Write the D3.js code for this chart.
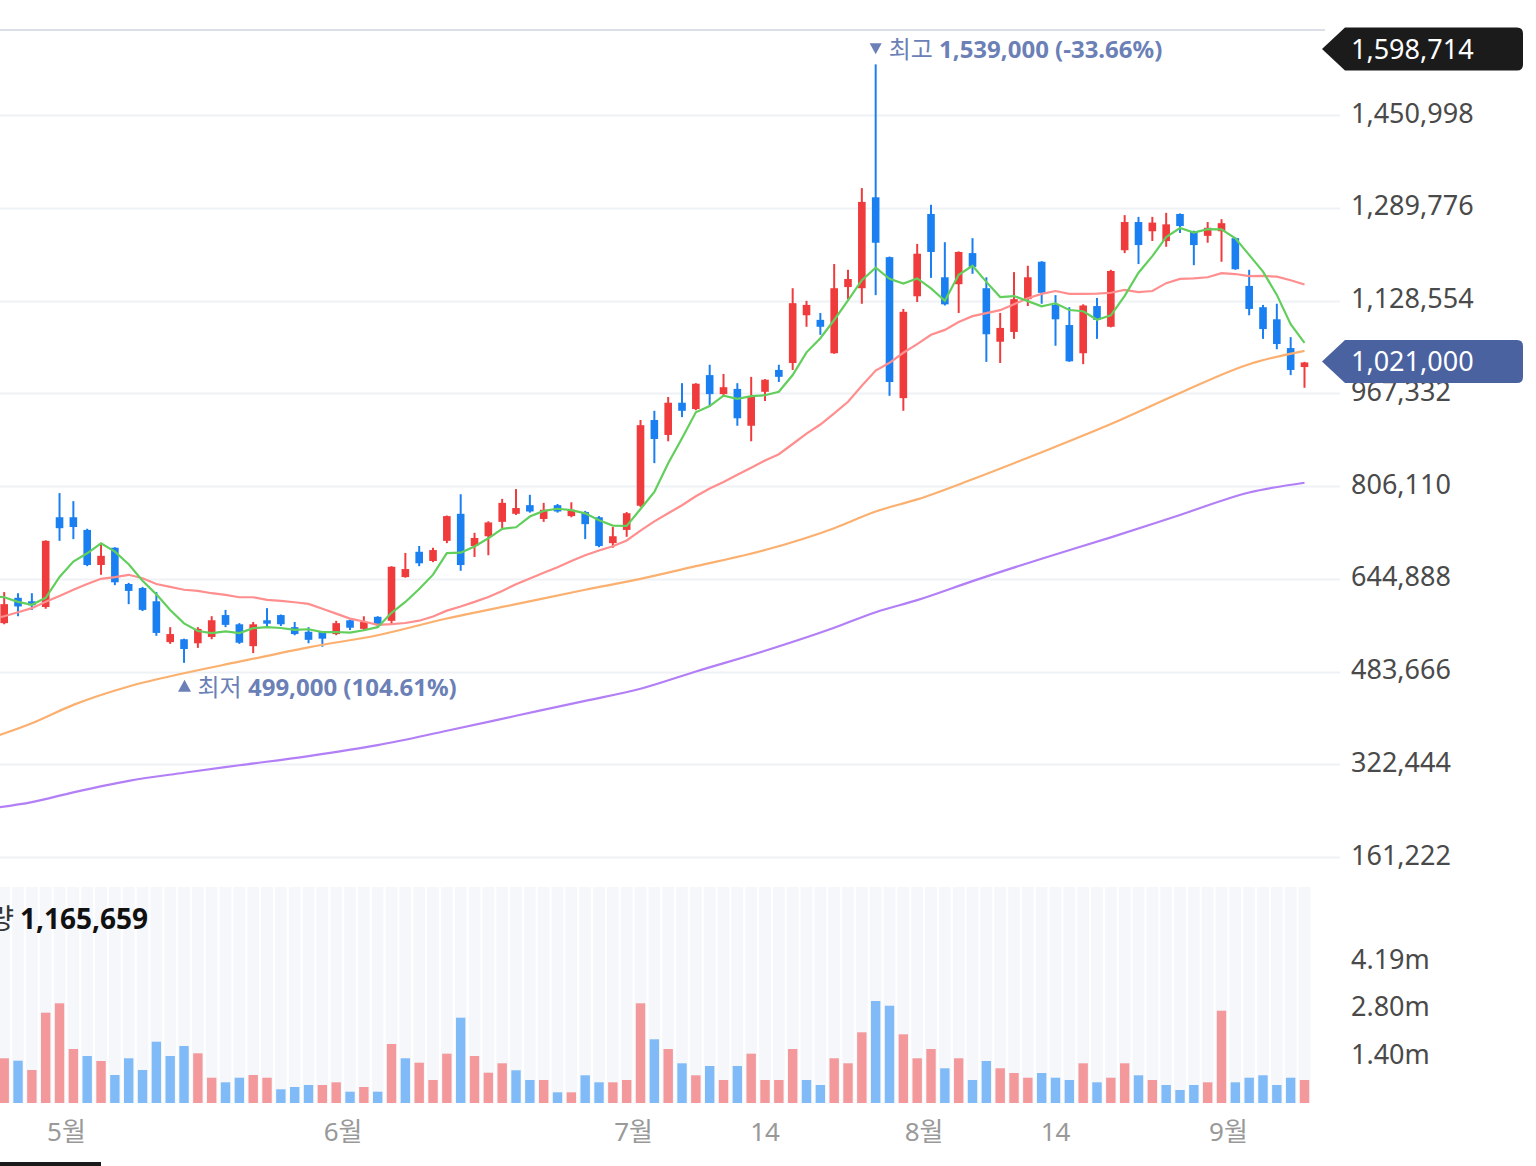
<!DOCTYPE html>
<html>
<head>
<meta charset="utf-8">
<script src="https://cdn.jsdelivr.net/npm/d3@7"></script>
<style>
    body { margin: 0; background: #fff; }
    svg text { font-family: "Noto Sans", "Noto Sans CJK KR", sans-serif; }
</style>
</head>
<body>
<div id="chart"></div>
<script>
    // prices in thousand won, one entry per trading day
    var opens = [568,612,606,596,752,752,730,669,699,636, 629,606,535,540,533,544,582,566,528,573,
                 582,561,553,553,549,573,558,579,572,648, 692,676,711,758,702,719,744,758,773,749,
                 773,754,761,752,707,730,772,921,895,951, 940,999,966,975,911,970,1008,1020,1103,1095,
                 1037,1152,1150,1308,1204,959,1136,1279,1169,1157, 1211,1150,1057,1074,1131,1196,1121,1086,1037,1119,
                 1083,1216,1265,1249,1232,1279,1249,1241,1249,1237, 1154,1117,1096,1046,1013];
    var highs = [622,620,620,712,794,780,732,706,700,638, 631,622,561,541,561,580,591,568,570,594,
                 583,570,561,554,572,574,580,580,667,690, 702,699,755,792,725,745,784,801,791,777,
                 775,778,763,754,735,761,921,937,961,985, 985,1017,1001,985,996,992,1017,1150,1128,1107,
                 1192,1182,1324,1539,1205,1114,1227,1295,1230,1214, 1237,1169,1107,1178,1189,1197,1138,1117,1122,1133,
                 1182,1277,1274,1274,1281,1280,1250,1265,1270,1238, 1182,1121,1123,1065,1022];
    var lows = [566,580,591,593,711,714,667,652,634,601, 589,546,532,499,525,540,561,532,516,561,
                563,547,533,527,547,556,556,561,565,647, 667,674,707,659,683,686,733,756,760,744,
                760,752,714,700,699,718,770,846,884,926, 938,944,961,911,884,954,987,1008,1083,1069,
                1036,1131,1123,1138,963,937,1126,1168,1120,1107, 1175,1022,1020,1062,1119,1123,1050,1022,1018,1062,
                1082,1211,1192,1232,1222,1246,1190,1229,1196,1182, 1103,1062,1044,999,977];
    var closes = [601,597,599,711,733,735,669,685,639,624, 591,551,549,523,558,573,565,534,566,567,
                  566,549,539,541,568,560,570,566,666,662, 672,695,754,669,716,743,777,768,762,765,
                  762,765,740,702,719,759,912,888,951,937, 984,966,978,924,961,991,996,1124,1121,1083,
                  1150,1166,1300,1229,987,1109,1210,1213,1122,1213, 1187,1070,1081,1131,1169,1142,1096,1023,1120,1095,
                  1180,1265,1225,1264,1261,1258,1225,1255,1263,1183, 1114,1079,1053,1008,1021];
    // volume in thousand shares
    var volumes = [1301,1231,960,2628,2901,1571,1368,1222,815,1301, 960,1784,1368,1659,1446,736,602,736,815,736,
                   399,466,524,524,602,329,466,329,1717,1301, 1173,669,1435,2482,1368,882,1155,952,669,669,
                   311,311,806,602,602,669,2901,1854,1571,1155, 806,1077,669,1077,1435,669,669,1571,669,524,
                   1301,1155,2057,2968,2831,1999,1301,1571,1010,1301, 669,1222,1010,873,736,873,736,669,1155,602,
                   736,1155,806,669,524,378,524,602,2686,602, 736,806,524,736,669];

    // moving averages before enough visible history (day -1 onward)
    var ma5Head = [615,613,605,600,612];
    var ma20Head = [575,580,587,594,605,615,626,636,645,648,652,646,636,631,626,624,620,617,613,613];
    // long averages read at these day indexes
    var longIdx = [-1,2,5,9,13,17,22,27,32,37,42,46,50,55,60,63,66,70,75,80,85,90,94];
    var ma60 = [368,394,426,458,481,501,526,547,576,601,626,645,667,695,733,762,783,818,865,914,968,1018,1041];
    var ma120 = [246,257,274,294,308,321,337,356,381,407,433,454,484,520,560,587,608,641,680,717,756,795,812];

    var priceTicks = [161222,322444,483666,644888,806110,967332,1128554,1289776,1450998];
    var priceTop = 1598714;
    var volTicks = [1400000,2800000,4190000];
    var volTickLabels = ["1.40m","2.80m","4.19m"];
    var dateLabels = ["5월","6월","7월","14","8월","14","9월"];
    var dateIdx = [4.5,24.5,45.5,55,66.5,76,88.5];
    var volumeTitle = "거래량";
    var volumeValue = "1,165,659";

    var width = 1536, height = 1166;
    var K = 1000;
    var upColor = "#f03b3d", downColor = "#1a7ff0";
    var upVol = "#f3999c", downVol = "#80bbf7";
    var fmt = d3.format(",");

    var n = closes.length;
    var x = d3.scaleLinear().domain([0, n - 1]).range([4.2, 1304.5]);
    var y = d3.scaleLinear().domain([0, priceTop]).range([950, 30]);
    var yv = d3.scaleLinear().domain([0, 4190000]).range([1103, 959]);

    var svg = d3.select("#chart").append("svg")
        .attr("width", width).attr("height", height);

    svg.append("clipPath").attr("id", "pclip")
        .append("rect").attr("x", 0).attr("y", 30).attr("width", 1340).attr("height", 850);

    // grid
    svg.append("g").selectAll("line").data(priceTicks).enter().append("line")
        .attr("x1", 0).attr("x2", 1340)
        .attr("y1", function(d) { return Math.round(y(d)) + 0.5; })
        .attr("y2", function(d) { return Math.round(y(d)) + 0.5; })
        .attr("stroke", "#eef1f6").attr("stroke-width", 2);

    svg.append("line").attr("x1", 0).attr("x2", 1325).attr("y1", 30).attr("y2", 30)
        .attr("stroke", "#cfd5e2").attr("stroke-width", 1.5);

    var plot = svg.append("g").attr("clip-path", "url(#pclip)");

    // candles
    var days = d3.range(n);
    var candle = plot.append("g").selectAll("g").data(days).enter().append("g");
    candle.append("line")
        .attr("x1", function(i) { return x(i); }).attr("x2", function(i) { return x(i); })
        .attr("y1", function(i) { return y(highs[i] * K); })
        .attr("y2", function(i) { return y(lows[i] * K); })
        .attr("stroke", function(i) { return closes[i] >= opens[i] ? upColor : downColor; })
        .attr("stroke-width", 2);
    candle.append("rect")
        .attr("x", function(i) { return x(i) - 3.8; })
        .attr("width", 7.6)
        .attr("y", function(i) { return y(Math.max(opens[i], closes[i]) * K); })
        .attr("height", function(i) { return Math.max(1.5, Math.abs(y(opens[i] * K) - y(closes[i] * K))); })
        .attr("fill", function(i) { return closes[i] >= opens[i] ? upColor : downColor; });

    // moving averages
    function avg(i, len) {
        return d3.mean(closes.slice(i - len + 1, i + 1));
    }
    var ma5 = ma5Head.map(function(v, j) { return [j - 1, v]; });
    for (var i = 4; i < n; i++) ma5.push([i, avg(i, 5)]);
    var ma20 = ma20Head.map(function(v, j) { return [j - 1, v]; });
    for (var i = 19; i < n; i++) ma20.push([i, avg(i, 20)]);

    var line = d3.line().x(function(d) { return x(d[0]); }).y(function(d) { return y(d[1] * K); });
    var smooth = d3.line().curve(d3.curveMonotoneX)
        .x(function(d) { return x(d[0]); }).y(function(d) { return y(d[1] * K); });

    plot.append("path").attr("d", smooth(longIdx.map(function(d, j) { return [d, ma120[j]]; })))
        .attr("fill", "none").attr("stroke", "#b27ff6").attr("stroke-width", 2.2);
    plot.append("path").attr("d", smooth(longIdx.map(function(d, j) { return [d, ma60[j]]; })))
        .attr("fill", "none").attr("stroke", "#fbb070").attr("stroke-width", 2.2);
    plot.append("path").attr("d", line(ma20))
        .attr("fill", "none").attr("stroke", "#ff8e8e").attr("stroke-width", 2.2);
    plot.append("path").attr("d", line(ma5))
        .attr("fill", "none").attr("stroke", "#62cf5c").attr("stroke-width", 2.2);

    // high / low markers
    var hiIdx = d3.maxIndex(highs), loIdx = d3.minIndex(lows);
    var last = closes[n - 1];
    var annColor = "#6b80b6";
    var pct = function(v) { return d3.format(".2f")(v).replace("\u2212", "-"); };
    var hy = y(highs[hiIdx] * K) - 16;
    svg.append("path")
        .attr("d", "M" + (x(hiIdx) - 6) + "," + (hy - 5) + "L" + (x(hiIdx) + 6) + "," + (hy - 5) + "L" + x(hiIdx) + "," + (hy + 6) + "Z")
        .attr("fill", annColor);
    var ht = svg.append("text").attr("x", x(hiIdx) + 13).attr("y", hy)
        .attr("dominant-baseline", "central").attr("font-size", 24).attr("fill", annColor);
    ht.append("tspan").text("최고 ");
    ht.append("tspan").attr("font-weight", 700)
        .text(fmt(highs[hiIdx] * K) + " (" + pct((last / highs[hiIdx] - 1) * 100) + "%)");

    var ly = y(lows[loIdx] * K) + 23;
    svg.append("path")
        .attr("d", "M" + (x(loIdx) - 6) + "," + (ly + 6) + "L" + (x(loIdx) + 7) + "," + (ly + 6) + "L" + (x(loIdx) + 0.5) + "," + (ly - 6) + "Z")
        .attr("fill", annColor);
    var lt = svg.append("text").attr("x", x(loIdx) + 13.5).attr("y", ly)
        .attr("dominant-baseline", "central").attr("font-size", 24).attr("fill", annColor);
    lt.append("tspan").text("최저 ");
    lt.append("tspan").attr("font-weight", 700)
        .text(fmt(lows[loIdx] * K) + " (" + pct((last / lows[loIdx] - 1) * 100) + "%)");

    // right price axis
    svg.append("g").selectAll("text").data(priceTicks).enter().append("text")
        .attr("x", 1351).attr("y", function(d) { return y(d) - 3; })
        .attr("dominant-baseline", "central").attr("font-size", 27).attr("fill", "#4a4a4a")
        .text(function(d) { return fmt(d); });

    function badge(cy, label, color) {
        var g = svg.append("g");
        g.append("path")
            .attr("d", "M1322," + cy + "L1345," + (cy - 21.5) + "H1517Q1523," + (cy - 21.5) + " 1523," + (cy - 15.5) +
                "V" + (cy + 15.5) + "Q1523," + (cy + 21.5) + " 1517," + (cy + 21.5) + "H1345Z")
            .attr("fill", color);
        g.append("text").attr("x", 1351).attr("y", cy - 1).attr("dominant-baseline", "central")
            .attr("font-size", 27).attr("fill", "#fff").text(label);
    }
    badge(49, fmt(priceTop), "#1b1b1b");
    badge(y(last * K) - 1, fmt(last * K), "#4a62a0");

    // volume panel
    svg.append("g").selectAll("rect").data(days).enter().append("rect")
        .attr("x", function(i) { return x(i) - 5.85; }).attr("width", 11.7)
        .attr("y", 887).attr("height", 1103 - 887)
        .attr("fill", "#f5f7fb");
    svg.append("g").selectAll("rect").data(days).enter().append("rect")
        .attr("x", function(i) { return x(i) - 4.7; }).attr("width", 9.4)
        .attr("y", function(i) { return yv(volumes[i] * K); })
        .attr("height", function(i) { return 1103 - yv(volumes[i] * K); })
        .attr("fill", function(i) { return (i > 0 ? closes[i] >= closes[i - 1] : closes[i] >= opens[i]) ? upVol : downVol; });

    svg.append("g").selectAll("text").data(volTicks).enter().append("text")
        .attr("x", 1351).attr("y", function(d) { return yv(d) - 1; })
        .attr("dominant-baseline", "central").attr("font-size", 27).attr("fill", "#4a4a4a")
        .text(function(d, j) { return volTickLabels[j]; });

    svg.append("text").attr("x", 14).attr("y", 918).attr("text-anchor", "end")
        .attr("dominant-baseline", "central").attr("font-size", 28).attr("fill", "#333")
        .text(volumeTitle);
    svg.append("text").attr("x", 20).attr("y", 918)
        .attr("dominant-baseline", "central").attr("font-size", 28).attr("font-weight", 700).attr("fill", "#111")
        .text(volumeValue);

    // date axis
    svg.append("g").selectAll("text").data(dateLabels).enter().append("text")
        .attr("x", function(d, j) { return x(dateIdx[j]); }).attr("y", 1131)
        .attr("text-anchor", "middle").attr("dominant-baseline", "central")
        .attr("font-size", 26).attr("fill", "#999")
        .text(function(d) { return d; });

    svg.append("rect").attr("x", 0).attr("y", 1162).attr("width", 101).attr("height", 4).attr("fill", "#1a1a1a");
</script>
</body>
</html>
